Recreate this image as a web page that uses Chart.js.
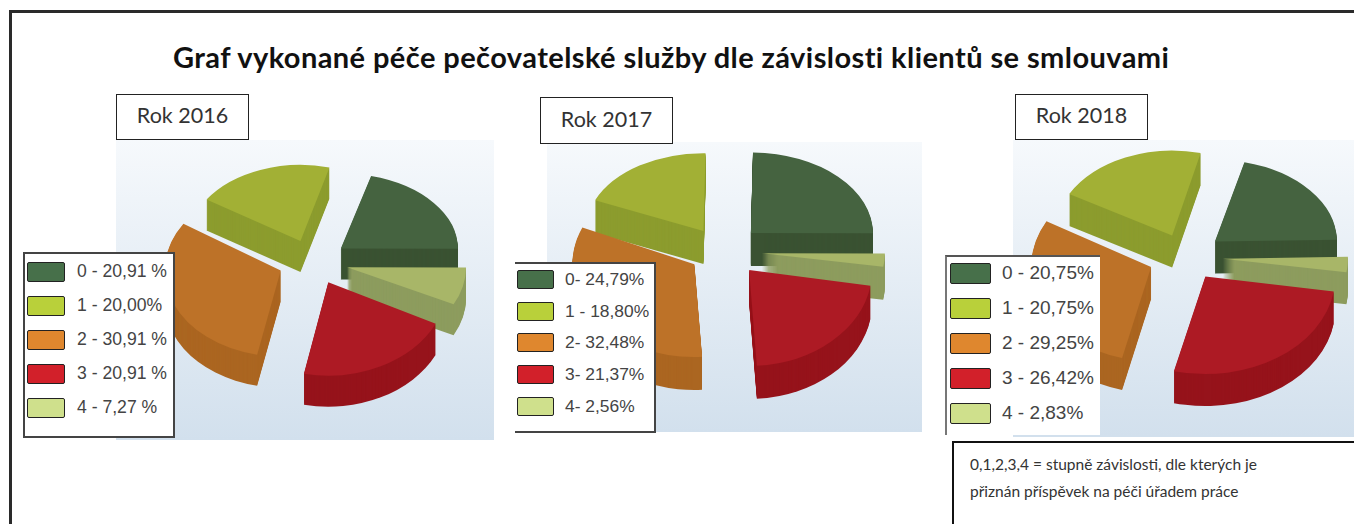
<!DOCTYPE html>
<html lang="cs">
<head>
<meta charset="utf-8">
<title>Graf vykonané péče</title>
<script src="https://cdn.jsdelivr.net/npm/chart.js@4"></script>
<style>
    html, body { margin: 0; padding: 0; background: #fff; }
    body { position: relative; width: 1354px; height: 524px; overflow: hidden; font-family: Lato, sans-serif; }
    #frame { position: absolute; left: 9px; top: 10px; width: 1345px; height: 514px; border-left: 3px solid #2a2a2a; border-top: 3px solid #2a2a2a; box-sizing: border-box; }
    #title { position: absolute; left: 173px; top: 39px; font-weight: 700; font-size: 29px; letter-spacing: 0.42px; color: #111; white-space: nowrap; }
    .panel { position: absolute; background: linear-gradient(#f6f9fc, #d2e0ed); }
    .chartBox { position: absolute; width: 330px; height: 320px; }
    .year { position: absolute; box-sizing: border-box; border: 1.5px solid #222; background: #fff; font-size: 21.5px; color: #333; text-align: center; }
    .legend { position: absolute; box-sizing: border-box; background: #fff; border: 2px solid #444; }
    .legend div { position: absolute; left: 0; font-family: "Liberation Sans", sans-serif; color: #444; white-space: nowrap; }
    .legend i { position: absolute; top: 0; box-sizing: border-box; border: 1.5px solid #222; border-radius: 2px; }
    .legend span { position: absolute; top: -1px; }
    #note { position: absolute; left: 952px; top: 441px; width: 402px; height: 83px; box-sizing: border-box; border-left: 2px solid #111; border-top: 2px solid #111; background: #fff; font-size: 15.5px; line-height: 27px; padding: 8px 0 0 16px; color: #333; white-space: nowrap; }
</style>
</head>
<body>
<div id="frame"></div>
<div id="title">Graf vykonané péče pečovatelské služby dle závislosti klientů se smlouvami</div>

<div class="panel" style="left:116px;top:140px;width:378px;height:300px"></div>
<div class="panel" style="left:547px;top:142px;width:375px;height:290px"></div>
<div class="panel" style="left:1013px;top:140px;width:341px;height:297px"></div>

<div class="chartBox" style="left:148px;top:102px"><canvas id="chart2016"></canvas></div>
<div class="chartBox" style="left:558px;top:91px"><canvas id="chart2017"></canvas></div>
<div class="chartBox" style="left:1021px;top:97px"><canvas id="chart2018"></canvas></div>

<div class="year" style="left:116px;top:94px;width:133px;height:46px;line-height:41px">Rok 2016</div>
<div class="year" style="left:540px;top:97px;width:133px;height:47px;line-height:42px">Rok 2017</div>
<div class="year" style="left:1015px;top:94px;width:133px;height:46px;line-height:41px">Rok 2018</div>

<div class="legend" id="legend2016" style="left:23px;top:252px;width:152px;height:186px"></div>
<div class="legend" id="legend2017" style="left:515px;top:262px;width:141px;height:171px;border-left:0"></div>
<div class="legend" id="legend2018" style="left:945px;top:255px;width:155px;height:180px;border-left-color:#777;border-top-color:#555;border-right:0;border-bottom:0"></div>

<div id="note">0,1,2,3,4 = stupně závislosti, dle kterých je<br>přiznán příspěvek na péči úřadem práce</div>

<script>
// hodnoty
const categories = ["0", "1", "2", "3", "4"];
const values2016 = [20.91, 20.00, 30.91, 20.91, 7.27];
const values2017 = [24.79, 18.80, 32.48, 21.37, 2.56];
const values2018 = [20.75, 20.75, 29.25, 26.42, 2.83];
const legend2016 = ["0 - 20,91 %", "1 - 20,00%", "2 - 30,91 %", "3 - 20,91 %", "4 - 7,27 %"];
const legend2017 = ["0- 24,79%", "1 - 18,80%", "2- 32,48%", "3- 21,37%", "4- 2,56%"];
const legend2018 = ["0 - 20,75%", "1 - 20,75%", "2 - 29,25%", "3 - 26,42%", "4 - 2,83%"];

const topColors = ["#456340", "#a2b035", "#bd7228", "#ad1a24", "#a8b668"];
const sideColors = ["#3a5232", "#8c9c2e", "#ab6621", "#96131b", "#8d9c5e"];
const swatchColors = ["#47704a", "#b9d03a", "#df872e", "#d2202a", "#cfe08c"];

// Pie se kreslí po směru hodinových ručiček: 0, 4, 3, 2, 1
const pieOrder = [0, 4, 3, 2, 1];

/**
 * Plugin pro "3D" vzhled: vysunutí a zploštění výsečí a boční stěny.
 * Přední výseče jsou kvůli perspektivě méně zploštělé než zadní.
 */
const pie3d = {
    id: "pie3d",
    afterDatasetsUpdate(chart, args, opts) {
        const arcs = chart.getDatasetMeta(0).data;
        arcs.forEach((arc, i) => {
            const k = pieOrder[i];
            const mid = (arc.startAngle + arc.endAngle) / 2;
            arc.x += Math.cos(mid) * opts.explode[k];
            arc.y += Math.sin(mid) * opts.explode[k] * opts.squash;
            arc.outerRadius = opts.radii[k];
            if (!arc.drawFlat) {
                arc.drawFlat = arc.draw;
                arc.draw = function (ctx) {
                    ctx.save();
                    ctx.translate(0, arc.y);
                    ctx.scale(1, opts.squashes[k]);
                    ctx.translate(0, -arc.y);
                    arc.drawFlat(ctx);
                    ctx.restore();
                };
            }
        });
    },
    beforeDatasetsDraw(chart, args, opts) {
        const ctx = chart.ctx;
        // boční stěny pod všemi vrchními plochami
        chart.getDatasetMeta(0).data.forEach((arc, i) => {
            const k = pieOrder[i];
            ctx.fillStyle = sideColors[k];
            for (let d = opts.depth; d > 0; d -= 1) {
                ctx.save();
                ctx.translate(arc.x, arc.y + d);
                ctx.scale(1, opts.squashes[k]);
                ctx.beginPath();
                ctx.moveTo(0, 0);
                ctx.arc(0, 0, arc.outerRadius, arc.startAngle, arc.endAngle);
                ctx.closePath();
                ctx.fill();
                ctx.restore();
            }
        });
    },
};

function createPie(id, values, rotation, look) {
    return new Chart(document.getElementById(id), {
        type: "pie",
        data: {
            labels: pieOrder.map((i) => categories[i]),
            datasets: [{
                data: pieOrder.map((i) => values[i]),
                backgroundColor: pieOrder.map((i) => topColors[i]),
                borderWidth: 0,
                clip: false,
            }],
        },
        options: {
            responsive: true,
            maintainAspectRatio: false,
            animation: false,
            rotation: rotation,
            plugins: {
                legend: { display: false },
                tooltip: { enabled: false },
                pie3d: look,
            },
        },
        plugins: [pie3d],
    });
}

function fillLegend(id, labels, layout) {
    const box = document.getElementById(id);
    labels.forEach((text, i) => {
        const row = document.createElement("div");
        row.style.top = layout.top + i * layout.step + "px";
        row.style.fontSize = layout.fontSize + "px";
        const swatch = document.createElement("i");
        swatch.style.cssText = `left:${layout.left}px;width:${layout.width}px;height:${layout.height}px;background:${swatchColors[i]}`;
        const label = document.createElement("span");
        label.style.left = layout.textLeft + "px";
        label.textContent = text;
        row.append(swatch, label);
        box.append(row);
    });
}

createPie("chart2016", values2016, 15, {
    squash: 0.64, depth: 31,
    explode: [35, 35, 35, 35, 35],
    radii: [117, 112, 116, 120, 119],
    squashes: [0.64, 0.68, 0.74, 0.78, 0.7],
});
createPie("chart2017", values2017, 1, {
    squash: 0.66, depth: 33,
    explode: [39, 36, 35, 39, 39],
    radii: [122, 118, 122, 123, 123],
    squashes: [0.66, 0.66, 0.76, 0.78, 0.67],
});
createPie("chart2018", values2018, 14, {
    squash: 0.67, depth: 32,
    explode: [37, 35, 38, 35, 37],
    radii: [122, 118, 120, 130, 125],
    squashes: [0.67, 0.72, 0.78, 0.75, 0.7],
});

fillLegend("legend2016", legend2016, { top: 8, step: 34, left: 2, width: 38, height: 20, textLeft: 52, fontSize: 17.6 });
fillLegend("legend2017", legend2017, { top: 6, step: 31.7, left: 2, width: 37, height: 19, textLeft: 50, fontSize: 17.4 });
fillLegend("legend2018", legend2018, { top: 6, step: 35, left: 3, width: 41, height: 21, textLeft: 55, fontSize: 19 });
</script>
</body>
</html>
